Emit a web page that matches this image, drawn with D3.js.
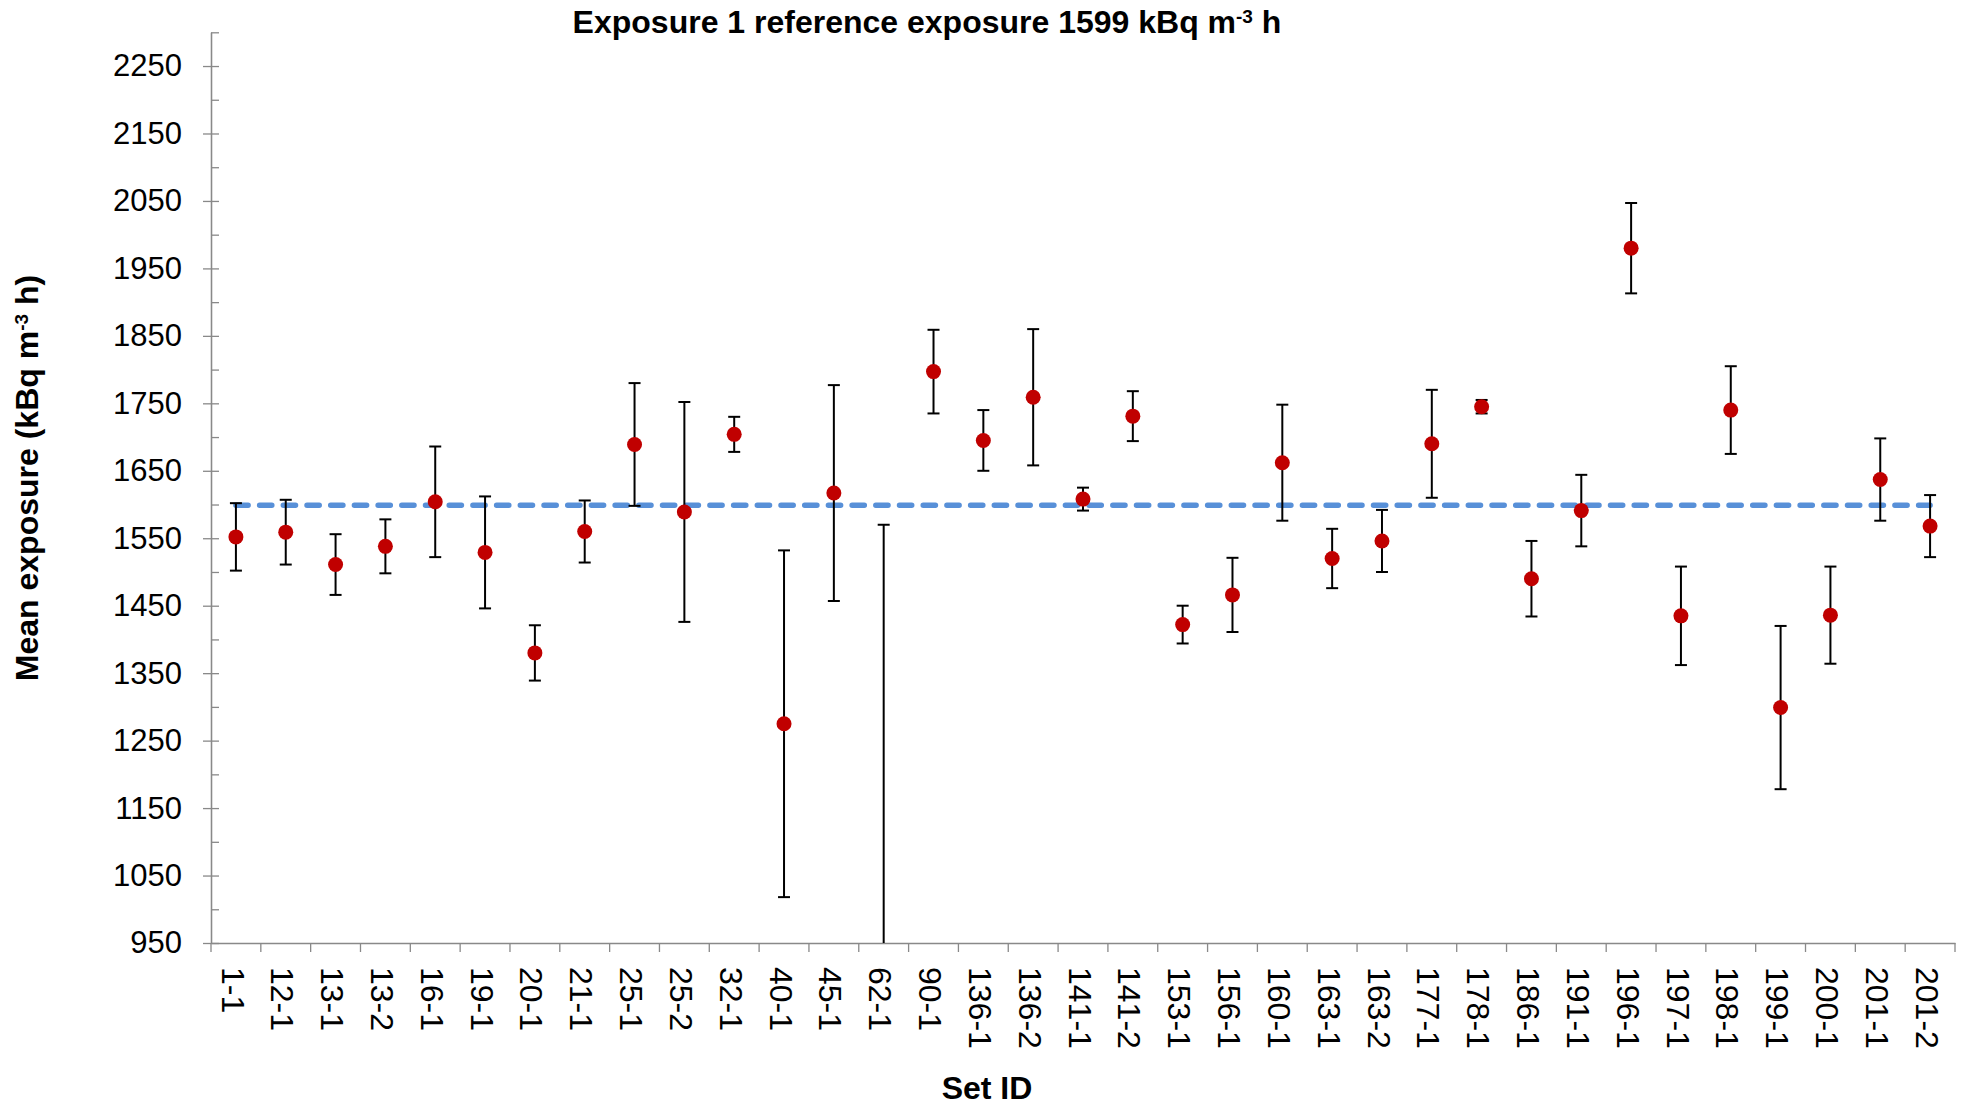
<!DOCTYPE html>
<html>
<head>
<meta charset="utf-8">
<script src="https://cdn.jsdelivr.net/npm/d3@7"></script>
<style>
  body { margin: 0; background: #fff; }
  svg text { font-family: "Liberation Sans", Arial, sans-serif; fill: #000; }
</style>
</head>
<body>
<div id="chart"></div>
<script>
// Set IDs along the x axis
var categories = ["1-1", "12-1", "13-1", "13-2", "16-1", "19-1", "20-1", "21-1", "25-1", "25-2",
    "32-1", "40-1", "45-1", "62-1", "90-1", "136-1", "136-2", "141-1", "141-2", "153-1",
    "156-1", "160-1", "163-1", "163-2", "177-1", "178-1", "186-1", "191-1", "196-1", "197-1",
    "198-1", "199-1", "200-1", "201-1", "201-2"];

// Mean exposure per set (kBq m-3 h)
var means = [1552, 1559, 1511, 1538, 1604, 1529, 1380, 1560, 1689, 1589,
    1704, 1275, 1617, 900, 1797, 1695, 1759, 1608, 1731, 1422,
    1466, 1662, 1520, 1546, 1690, 1745, 1490, 1591, 1980, 1435,
    1740, 1299, 1436, 1637, 1568];

// Error bar half widths
var errors = [50, 48, 45, 40, 82, 83, 41, 46, 91, 163,
    26, 257, 160, 670, 62, 45, 101, 17, 37, 28,
    55, 86, 44, 46, 80, 10, 56, 53, 67, 73,
    65, 121, 72, 61, 46];

var referenceValue = 1599;

// y tick labels (major) and minor tick positions
var yMajorTicks = [950, 1050, 1150, 1250, 1350, 1450, 1550, 1650, 1750, 1850, 1950, 2050, 2150, 2250];
var yMinorTicks = [1000, 1100, 1200, 1300, 1400, 1500, 1600, 1700, 1800, 1900, 2000, 2100, 2200, 2300];

var width = 1964;
var height = 1107;
var plotLeft = 211, plotRight = 1955, plotTop = 32.3, plotBottom = 943;
var axisColor = "#898989";

var svg = d3.select("#chart")
    .append("svg")
    .attr("width", width)
    .attr("height", height);

var x = d3.scaleBand()
    .domain(categories)
    .range([plotLeft, plotRight]);

var y = d3.scaleLinear()
    .domain([950, 2300])
    .range([plotBottom, plotTop]);

svg.append("defs").append("clipPath")
    .attr("id", "plot-clip")
    .append("rect")
    .attr("x", plotLeft)
    .attr("y", plotTop)
    .attr("width", plotRight - plotLeft)
    .attr("height", plotBottom - plotTop);

// Y axis: major ticks crossing, minor ticks inside
var yAxis = svg.append("g")
    .attr("transform", "translate(" + plotLeft + ",0)")
    .call(d3.axisLeft(y).tickValues(yMajorTicks).tickFormat(d3.format("d"))
        .tickSizeInner(8).tickSizeOuter(0).tickPadding(21));

svg.append("g")
    .attr("transform", "translate(" + plotLeft + ",0)")
    .call(d3.axisRight(y).tickValues(yMajorTicks.concat(yMinorTicks)).tickSizeInner(8).tickSizeOuter(0).tickFormat(""));

yAxis.selectAll("text")
    .style("font-size", "31px");

// X axis with ticks between categories
var xAxis = svg.append("g")
    .attr("transform", "translate(0," + plotBottom + ")")
    .call(d3.axisBottom(x).tickSize(0).tickSizeOuter(0));

xAxis.selectAll("text")
    .attr("transform", "rotate(90)")
    .attr("x", 24)
    .attr("y", 0)
    .attr("dy", "0.45em")
    .attr("text-anchor", "start")
    .style("font-size", "32px");

var boundaries = categories.map(function (c) { return x(c); }).concat([x.range()[1]]);
xAxis.selectAll(".boundary")
    .data(boundaries)
    .enter()
    .append("line")
    .attr("class", "boundary")
    .attr("x1", function (d) { return d; })
    .attr("x2", function (d) { return d; })
    .attr("y1", 0)
    .attr("y2", 9);

svg.selectAll(".domain, .tick line, .boundary")
    .attr("stroke", axisColor)
    .attr("stroke-width", 1.3);

// Reference exposure line
var plot = svg.append("g").attr("clip-path", "url(#plot-clip)");

plot.append("line")
    .attr("x1", x(categories[0]) + x.bandwidth() / 2)
    .attr("x2", x(categories[categories.length - 1]) + x.bandwidth() / 2)
    .attr("y1", y(referenceValue))
    .attr("y2", y(referenceValue))
    .attr("stroke", "#5890D8")
    .attr("stroke-width", 5.5)
    .attr("stroke-linecap", "round")
    .attr("stroke-dasharray", "12.2,11.5");

var points = categories.map(function (c, i) {
    return { id: c, mean: means[i], err: errors[i] };
});

function cx(d) { return x(d.id) + x.bandwidth() / 2; }

// Error bars
var bars = plot.selectAll(".err")
    .data(points)
    .enter()
    .append("g")
    .attr("class", "err")
    .attr("stroke", "#000")
    .attr("stroke-width", 2);

bars.append("line")
    .attr("x1", cx).attr("x2", cx)
    .attr("y1", function (d) { return y(d.mean - d.err); })
    .attr("y2", function (d) { return y(d.mean + d.err); });

bars.append("line")
    .attr("x1", function (d) { return cx(d) - 6; })
    .attr("x2", function (d) { return cx(d) + 6; })
    .attr("y1", function (d) { return y(d.mean + d.err); })
    .attr("y2", function (d) { return y(d.mean + d.err); });

bars.append("line")
    .attr("x1", function (d) { return cx(d) - 6; })
    .attr("x2", function (d) { return cx(d) + 6; })
    .attr("y1", function (d) { return y(d.mean - d.err); })
    .attr("y2", function (d) { return y(d.mean - d.err); });

// Mean markers
plot.selectAll(".dot")
    .data(points)
    .enter()
    .append("circle")
    .attr("class", "dot")
    .attr("cx", cx)
    .attr("cy", function (d) { return y(d.mean); })
    .attr("r", 7.5)
    .attr("fill", "#C00000");

// Titles
var title = svg.append("text")
    .attr("x", 927)
    .attr("y", 33)
    .attr("text-anchor", "middle")
    .style("font-size", "32px")
    .style("font-weight", "bold");
title.append("tspan").text("Exposure 1 reference exposure 1599 kBq m");
title.append("tspan").attr("baseline-shift", "super").style("font-size", "19px").text("-3");
title.append("tspan").text(" h");

svg.append("text")
    .attr("x", 987)
    .attr("y", 1099)
    .attr("text-anchor", "middle")
    .style("font-size", "32px")
    .style("font-weight", "bold")
    .text("Set ID");

var yTitle = svg.append("text")
    .attr("transform", "translate(38,478) rotate(-90)")
    .attr("text-anchor", "middle")
    .style("font-size", "32px")
    .style("font-weight", "bold");
yTitle.append("tspan").text("Mean exposure (kBq m");
yTitle.append("tspan").attr("baseline-shift", "super").style("font-size", "19px").text("-3");
yTitle.append("tspan").text(" h)");
</script>
</body>
</html>
